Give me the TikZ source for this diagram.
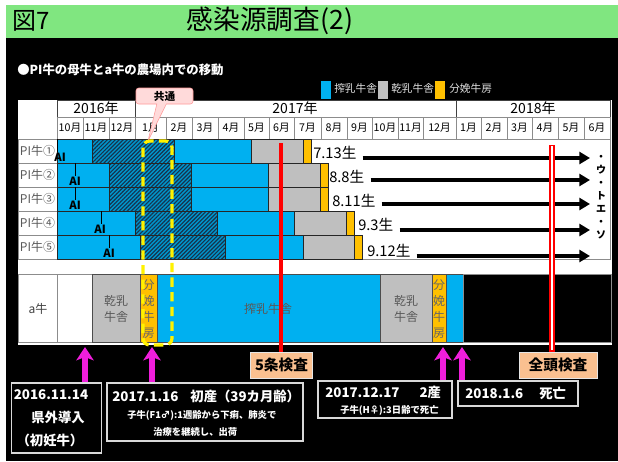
\documentclass[tikz,border=0pt]{standalone}
\usepackage{fontspec}
\setmainfont{Noto Sans CJK JP}
\usetikzlibrary{patterns,patterns.meta,arrows.meta,shapes.callouts}
\definecolor{cblue}{HTML}{00B0F0}
\definecolor{cgray}{HTML}{BFBFBF}
\definecolor{corange}{HTML}{FFC000}
\definecolor{cpeach}{HTML}{FAC090}
\definecolor{cgreen}{HTML}{80E680}
\definecolor{cmag}{HTML}{F01EDC}
\definecolor{cpink}{HTML}{FFDADA}
\definecolor{hatchc}{HTML}{16324C}
\newcommand\fsz[2]{\fontsize{#1}{#2}\selectfont}
\begin{document}
\begin{tikzpicture}[x=0.75pt,y=-0.75pt,
 seg/.style={draw=black!85,line width=0.6pt},
 gridl/.style={draw=black!45,line width=0.6pt},
 hdrl/.style={draw=black!75,line width=0.7pt},
 montxt/.style={font=\fsz{8}{9},inner sep=0pt},
 yeartxt/.style={font=\fsz{10.5}{12},inner sep=0pt},
 rowlab/.style={font=\fsz{9}{10},text=black!65,inner sep=0pt},
 aitxt/.style={font=\bfseries\fsz{8.5}{9},inner sep=0pt},
 birth/.style={font=\fsz{11}{12},inner sep=0pt,anchor=west},
 rowarrow/.style={line width=2.3pt,-{Triangle[width=9pt,length=8pt]}},
 legtxt/.style={font=\fsz{8}{9},text=black!12,inner sep=0pt,anchor=west},
 celltxt/.style={font=\fsz{9}{11.5},text=black!65,align=center,inner sep=0pt},
 vtxt/.style={font=\fsz{9}{12},text=black!60,align=center,inner sep=0pt},
 kensa/.style={draw=black!10,fill=cpeach,line width=0.6pt,font=\bfseries\fsz{11}{12},inner sep=0pt},
 lbox/.style={draw=black!15,fill=black,line width=0.8pt,inner sep=0pt},
 ltxt/.style={font=\bfseries\fsz{10}{12},text=white,inner sep=0pt},
 stxt/.style={font=\bfseries\fsz{7}{8},text=white,inner sep=0pt,anchor=west},
 magarrow/.style={draw=cmag,line width=3.8pt,-{Stealth[width=13pt,length=10pt,inset=2.5pt]}},
 ]
\useasboundingbox (0,0) rectangle (618,461);
\fill[white] (0,0) rectangle (618,461);
\fill[cgreen] (6,5) rectangle (618,38);
\fill[black] (6,38) rectangle (618,461);

% title
\node[font=\fsz{18}{20},inner sep=0pt] (fig) at (31,21) {図7};
\node[font=\fsz{20}{22},inner sep=0pt] (title) at (270,21) {感染源調査(2)};
\node[anchor=west,text=white,font=\bfseries\fsz{9.3}{11},inner sep=0pt] (sub) at (17,70) {●PI牛の母牛とa牛の農場内での移動};

% legend
\fill[cblue] (321,81) rectangle (331,99);
\node[legtxt] (lg1) at (334,88) {搾乳牛舎};
\fill[cgray] (378,81) rectangle (388,99);
\node[legtxt] (lg2) at (391,88) {乾乳牛舎};
\fill[corange] (435,81) rectangle (445,99);
\node[legtxt] (lg3) at (449,88) {分娩牛房};

% white panel
\fill[white] (18,100) rectangle (612,345);

% year header
\draw[hdrl] (57,100) rectangle (135,117);
\draw[hdrl] (135,100) rectangle (456,117);
\draw[hdrl] (456,100) rectangle (610,117);
\node[yeartxt] (y16) at (96,108.5) {2016年};
\node[yeartxt] (y17) at (295,108.5) {2017年};
\node[yeartxt] (y18) at (533,108.5) {2018年};

% months
\foreach \a/\b/\m [count=\i] in {57/83/10,83/109/11,109/135/12,135/166/1,166/192/2,192/218/3,218/244/4,244/269/5,269/294/6,294/321/7,321/347/8,347/372/9,372/398/10,398/423/11,423/456/12,456/481/1,481/507/2,507/532/3,532/558/4,558/584/5,584/610/6}{
  \draw[gridl] (\a,117) rectangle (\b,139);
  \node[montxt] (mo\i) at ({(\a+\b)/2},128) {\m{}月};
}

% table outline
\draw[gridl] (57,139) rectangle (610,259);

% rows
\foreach \T/\L/\A/\Ha/\Hb/\G/\O/\E/\c [count=\i] in {139/57/60/92/174/251/303/311/①,163/75/75/109/191/268/320/328/②,187/75/75/109/191/268/320/328/③,211/101/100/135/217/294/346/354/④,235/109/109/140/225/303/354/362/⑤}{
  \draw[gridl,fill=white] (18,\T) rectangle (57,\T+24);
  \node[rowlab] (pl\i) at (37.5,\T+12) {PI牛{}\c};
  \draw[seg,fill=cblue] (57,\T) rectangle (\Ha,\T+24);
  \fill[cblue!85!black] (\Ha,\T) rectangle (\Hb,\T+24);
  \fill[pattern={Lines[angle=45,distance=2.1pt,line width=0.85pt]},pattern color=hatchc] (\Ha,\T) rectangle (\Hb,\T+24);
  \draw[seg] (\Ha,\T) rectangle (\Hb,\T+24);
  \draw[seg,fill=cblue] (\Hb,\T) rectangle (\G,\T+24);
  \draw[seg,fill=cgray] (\G,\T) rectangle (\O,\T+24);
  \draw[seg,fill=corange] (\O,\T) rectangle (\E,\T+24);
  \draw[line width=0.6pt] (\L,\T) -- (\L,\T+13);
  \node[aitxt] (ai\i) at (\A,\T+18) {AI};
}

% birth labels and arrows
\foreach \x/\y/\ya/\t [count=\i] in {313/153/158/7.13生,329/177/180/8.8生,332/201/204/8.11生,358/225/230/9.3生,367/251/256/9.12生}{
  \node[birth] (bt\i) at (\x,\y) {\t};
  \coordinate (ae\i) at (590,\ya);
  \draw[rowarrow] (bt\i.east |- ae\i) ++(6,0) -- (ae\i);
}
\node[font=\bfseries\fsz{7.5}{9.8},align=center,inner sep=0pt] (sok) at (601,197) {・\\ウ\\・\\ト\\エ\\・\\ソ};

% a-row
\draw[gridl,fill=white] (18,274) rectangle (611,342);
\draw[gridl] (57,274) -- (57,342);
\node[font=\fsz{9}{10},text=black!75,inner sep=0pt] (alab) at (38,309) {a牛};
\draw[seg,draw=black!70,fill=cgray] (92,274) rectangle (140,342);
\node[celltxt] (ac1) at (116,309) {乾乳\\牛舎};
\draw[seg,draw=black!70,fill=corange] (140,274) rectangle (157,342);
\node[vtxt] (ac2) at (148.5,309) {分\\娩\\牛\\房};
\draw[seg,draw=black!70,fill=cblue] (157,274) rectangle (380,342);
\node[celltxt] (ac3) at (268,309) {搾乳牛舎};
\draw[seg,draw=black!70,fill=cgray] (380,274) rectangle (432,342);
\node[celltxt] (ac4) at (406,309) {乾乳\\牛舎};
\draw[seg,draw=black!70,fill=corange] (432,274) rectangle (446,342);
\node[vtxt] (ac5) at (439,309) {分\\娩\\牛\\房};
\draw[seg,draw=black!70,fill=cblue] (446,274) rectangle (463,342);
\draw[gridl,fill=black] (463,274) rectangle (611,342);

% inspection boxes and lines
\node[kensa,minimum width=47pt,minimum height=19.5pt] (k5) at (281.5,365) {5条検査};
\node[kensa,minimum width=58.5pt,minimum height=19.5pt] (kz) at (558,365) {全頭検査};
\coordinate (r1) at (281,143);
\draw[red,line width=3pt] (r1) -- (r1 |- k5.north);
\coordinate (r2) at (552,145);
\draw[red,line width=4pt] (r2) -- (r2 |- kz.north);
\draw[white,line width=1.8pt] ([yshift=-1pt]r2) -- ([yshift=1pt]r2 |- kz.north);

% yellow dashed common box
\draw[yellow,line width=2.4pt,dash pattern=on 7pt off 4pt,rounded corners=5pt] (143,141) rectangle (172,345);

% callout
\node[rectangle callout,draw=red!40,fill=cpink,rounded corners=2pt,minimum width=42.75pt,minimum height=12pt,inner sep=0pt,font=\bfseries\fsz{8}{9},callout absolute pointer={(148,141)}] (kyo) at (164.5,96) {共通};

% bottom label boxes
\node[lbox,minimum width=68pt,minimum height=52.5pt] (b1) at (56.5,418) {};
\node[ltxt] (b1a) at (51,395) {2016.11.14};
\node[ltxt] (b1b) at (58,417) {県外導入};
\node[ltxt] (b1c) at (50,440) {（初妊牛）};

\node[lbox,minimum width=147pt,minimum height=43.5pt] (b2) at (205,412) {};
\node[ltxt,anchor=west] (b2a) at (112,396) {2017.1.16\hspace{0.9em}初産（39カ月齢）};
\node[stxt] (b2b) at (127,415) {子牛(F1♂):1週齢から下痢、肺炎で};
\node[stxt] (b2c) at (153,432) {治療を継続し、出荷};

\node[lbox,minimum width=100.5pt,minimum height=27.75pt] (b3) at (385,399.5) {};
\node[ltxt,anchor=west] (b3a) at (325,392) {2017.12.17\hspace{1.5em}2産};
\node[stxt] (b3b) at (340,410) {子牛(H♀):3日齢で死亡};

\node[lbox,minimum width=90pt,minimum height=18.75pt] (b4) at (518,393.5) {};
\node[ltxt,anchor=west] (b4a) at (465,393.5) {2018.1.6\hspace{1.2em}死亡};

% magenta arrows
\coordinate (m1) at (85,347);
\coordinate (m2) at (152,347);
\coordinate (m3) at (443,347);
\coordinate (m4) at (462,347);
\draw[magarrow] (m1 |- b1.north) -- (m1);
\draw[magarrow] (m2 |- b2.north) -- (m2);
\draw[magarrow] (m3 |- b3.north) -- (m3);
\draw[magarrow] (m4 |- b4.north) -- (m4);
\end{tikzpicture}
\end{document}
